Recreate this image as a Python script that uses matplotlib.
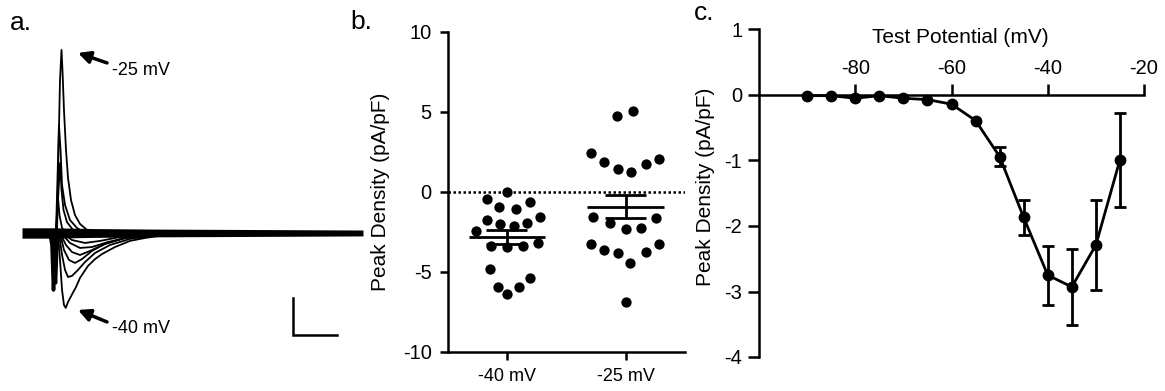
import numpy as np
import matplotlib.pyplot as plt

plt.rcParams['font.family'] = ['Liberation Sans', 'DejaVu Sans']
plt.rcParams['axes.unicode_minus'] = False

W, H = 1165, 391

# ---- a. example current traces (time in ms, current in pA) ----
# noisy baseline drawn as a band (half thickness in pA)
base_t = [0, 3.5, 8, 15, 25, 38.75]
base_half = [28, 28, 24, 21, 19, 16]

# outward transients (largest one is the -25 mV step)
up1_t = [3.98, 4.15, 4.32, 4.49, 4.60, 4.77, 5.0, 5.23, 5.57, 6.02, 6.59, 7.39, 8.30]
up1_i = [0, 449, 827, 989, 881, 665, 449, 297, 178, 97, 49, 16, 0]
up2_t = [3.86, 4.03, 4.2, 4.38, 4.55, 4.89, 5.45, 6.25, 7.16]
up2_i = [0, 286, 584, 449, 259, 151, 70, 27, 0]
up3_t = [3.92, 4.09, 4.32, 4.49, 4.72, 5.11, 5.80, 6.59]
up3_i = [0, 178, 378, 232, 124, 59, 16, 0]
up4_t = [3.81, 3.98, 4.09, 4.26, 4.55, 5.0]
up4_i = [0, 97, 189, 97, 27, 0]

# capacitive artifacts
art1_t = [3.18, 3.41, 3.58, 3.75, 3.86]
art1_i = [0, -65, -308, -92, 0]
art2_t = [3.41, 3.64, 3.81, 3.98, 4.09]
art2_i = [0, -200, -270, -38, 0]

# inward currents (largest one is the -40 mV step)
dn1_t = [4.09, 4.32, 4.55, 4.77, 4.97, 5.23, 5.65, 6.14, 6.59, 7.5, 8.3, 9.09, 10.57, 12.27, 13.98, 16.25, 19.09]
dn1_i = [0, -146, -308, -389, -405, -373, -335, -292, -243, -178, -141, -114, -76, -43, -27, -11, 0]
dn2_t = [4.2, 4.55, 4.89, 5.23, 5.68, 6.36, 7.16, 8.3, 10.0, 12.27, 15.68, 18.52]
dn2_i = [0, -119, -200, -238, -232, -200, -157, -108, -65, -32, -11, 0]
dn3_t = [4.32, 4.77, 5.34, 6.02, 6.82, 7.95, 9.43, 11.7, 14.55, 16.82]
dn3_i = [0, -92, -146, -162, -141, -97, -59, -27, -5, 0]
dn4_t = [4.32, 5.0, 5.68, 6.59, 7.73, 9.43, 11.7, 14.55, 16.82]
dn4_i = [0, -65, -103, -119, -97, -59, -27, -5, 0]
dn5_t = [4.43, 5.45, 6.59, 7.95, 9.77, 12.27, 15.11, 17.39]
dn5_i = [0, -54, -81, -76, -49, -22, -5, 0]
dn6_t = [4.55, 5.68, 7.16, 8.86, 11.14, 13.98, 16.25]
dn6_i = [0, -38, -54, -43, -22, -5, 0]

# scale bar: 5 ms, 200 pA
bar_ms = 5
bar_pa = 200

# ---- b. peak density per cell ----
b_labels = ['-40 mV', '-25 mV']
b40_vals = [0, -0.46, -0.94, -1.1, -0.66, -1.56, -1.77, -2.02, -2.14, -1.94,
            -2.44, -3.39, -3.48, -3.39, -3.19, -4.85, -5.94, -6.4, -5.94, -5.42]
b40_jit = [0.006, -0.162, -0.064, 0.076, 0.193, 0.277, -0.162, -0.059, 0.059, 0.171,
           -0.255, -0.129, 0.006, 0.137, 0.263, -0.143, -0.073, 0.006, 0.101, 0.2]
b25_vals = [4.73, 5.06, 2.4, 1.88, 1.4, 1.25, 1.73, 2.04, -1.6, -1.94,
            -2.35, -2.29, -1.66, -3.27, -3.64, -3.81, -4.48, -3.79, -3.29, -6.87]
b25_jit = [-0.07, 0.067, -0.29, -0.18, -0.06, 0.05, 0.17, 0.28, -0.27, -0.13,
           0.0, 0.13, 0.26, -0.29, -0.18, -0.06, 0.04, 0.17, 0.28, 0.0]

# ---- c. I-V relation ----
c_volt = [-90, -85, -80, -75, -70, -65, -60, -55, -50, -45, -40, -35, -30, -25]
c_dens = [-0.01, -0.01, -0.05, -0.01, -0.05, -0.07, -0.14, -0.39, -0.94, -1.87, -2.75, -2.93, -2.29, -0.99]
c_sem = [0, 0, 0, 0, 0, 0, 0.03, 0.05, 0.15, 0.27, 0.45, 0.58, 0.68, 0.72]


fig = plt.figure(figsize=(W / 100, H / 100), dpi=100)

# ---------------- panel a ----------------
axa = fig.add_axes([0, 0, 384.45 / W, 1])
axa.set_xlim(-2.5, 41.19)
axa.set_ylim(-854, 1259)
axa.axis('off')
half = np.array(base_half)
axa.fill_between(base_t, -half, half, color='black', lw=0)
for t, i in [(art1_t, art1_i), (art2_t, art2_i)]:
    axa.plot(t, i, color='black', lw=2.6, solid_joinstyle='round')
for t, i in [(up1_t, up1_i), (up2_t, up2_i), (up3_t, up3_i), (up4_t, up4_i)]:
    axa.plot(t, i, color='black', lw=1.3, solid_joinstyle='round')
for t, i in [(dn1_t, dn1_i), (dn2_t, dn2_i), (dn3_t, dn3_i),
             (dn4_t, dn4_i), (dn5_t, dn5_i), (dn6_t, dn6_i)]:
    axa.plot(t, i, color='black', lw=1.3, solid_joinstyle='round')

arrow = dict(arrowstyle='-|>', lw=2.5, color='black', mutation_scale=18,
             shrinkA=0, shrinkB=0)
axa.annotate('', xy=(6.36, 973), xytext=(9.66, 919), arrowprops=arrow)
axa.text(10.2, 880, '-25 mV', fontsize=13, ha='left', va='center')
axa.annotate('', xy=(6.36, -416), xytext=(9.66, -481), arrowprops=arrow)
axa.text(10.2, -514, '-40 mV', fontsize=13, ha='left', va='center')

sb_t, sb_i = 30.75, -551
axa.plot([sb_t, sb_t, sb_t + bar_ms], [sb_i + bar_pa, sb_i, sb_i],
         color='black', lw=1.8, solid_joinstyle='miter')

# ---------------- panel b ----------------
axb = fig.add_axes([448.3 / W, 1 - 351.7 / H, 236.7 / W, 320 / H])
axb.axhline(0, color='black', lw=1.8, ls=(0, (1, 1)), zorder=1)
for k, (vals, jit) in enumerate([(b40_vals, b40_jit), (b25_vals, b25_jit)]):
    vals = np.array(vals)
    axb.scatter(k + np.array(jit), vals, s=55, color='black', lw=0, zorder=2)
    m = vals.mean()
    sem = vals.std(ddof=1) / np.sqrt(len(vals))
    axb.hlines(m, k - 0.32, k + 0.32, color='black', lw=2, zorder=3)
    axb.hlines([m - sem, m + sem], k - 0.17, k + 0.17, color='black', lw=2, zorder=3)
    axb.vlines(k, m - sem, m + sem, color='black', lw=2, zorder=3)
axb.set_xlim(-0.49, 1.5)
axb.set_ylim(-10, 10)
axb.set_yticks([-10, -5, 0, 5, 10])
axb.set_xticks([0, 1])
axb.set_xticklabels(b_labels, fontsize=13)
axb.tick_params(axis='y', labelsize=14.5, length=6, width=1.8, pad=6)
axb.tick_params(axis='x', length=6, width=1.8, pad=6)
for s in ['top', 'right']:
    axb.spines[s].set_visible(False)
for s in ['left', 'bottom']:
    axb.spines[s].set_linewidth(1.8)
axb.set_ylabel('Peak Density (pA/pF)', fontsize=15)
axb.yaxis.set_label_coords(-0.247, 0.5)

# ---------------- panel c ----------------
axc = fig.add_axes([759 / W, 1 - 357 / H, 385 / W, 327.5 / H])
axc.plot(c_volt, c_dens, color='black', lw=2, marker='o', ms=7.5, zorder=3)
sem_c = np.array(c_sem)
show = sem_c > 0.1
axc.errorbar(np.array(c_volt)[show], np.array(c_dens)[show], yerr=sem_c[show],
             fmt='none', ecolor='black', elinewidth=2, capsize=4, capthick=2)
axc.set_xlim(-100, -20)
axc.set_ylim(-4, 1)
axc.spines['right'].set_visible(False)
axc.spines['bottom'].set_visible(False)
axc.spines['top'].set_position(('data', 0))
axc.spines['top'].set_linewidth(1.8)
axc.spines['left'].set_linewidth(1.8)
axc.xaxis.set_ticks_position('top')
axc.xaxis.set_label_position('top')
axc.set_xticks([-80, -60, -40, -20])
axc.set_yticks([-4, -3, -2, -1, 0, 1])
axc.tick_params(axis='x', labelsize=14.5, length=8, width=1.8, pad=4)
axc.tick_params(axis='y', labelsize=14.5, length=8, width=1.8, pad=4)
axc.set_xlabel('Test Potential (mV)', fontsize=15)
axc.xaxis.set_label_coords(0.523, 0.959)
axc.set_ylabel('Peak Density (pA/pF)', fontsize=15)
axc.yaxis.set_label_coords(-0.114, 0.519)

# panel letters
fig.text(10 / W, 1 - 30 / H, 'a.', fontsize=19, va='baseline')
fig.text(350 / W, 1 - 29.3 / H, 'b.', fontsize=19, va='baseline')
fig.text(694 / W, 1 - 20 / H, 'c.', fontsize=19, va='baseline')

fig.savefig('out.png', dpi=100)
